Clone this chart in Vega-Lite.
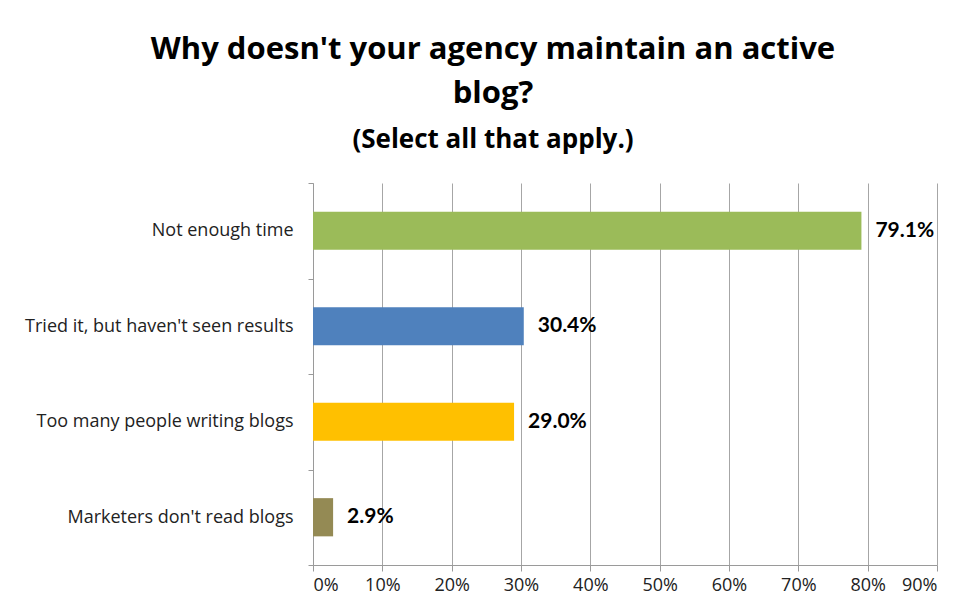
{
  "$schema": "https://vega.github.io/schema/vega-lite/v6.json",
  "width": 624,
  "height": 382,
  "autosize": "none",
  "padding": {"left": 313, "top": 183, "right": 32, "bottom": 49},
  "background": "white",
  "title": {
    "text": ["Why doesn't your agency maintain an active", "blog?"],
    "subtitle": "(Select all that apply.)",
    "anchor": "middle",
    "dx": -132,
    "offset": 20,
    "font": "Open Sans",
    "fontSize": 31,
    "fontWeight": "bold",
    "lineHeight": 44,
    "color": "#000000",
    "subtitleFont": "Open Sans",
    "subtitleFontSize": 26,
    "subtitleFontWeight": "bold",
    "subtitleColor": "#000000",
    "subtitlePadding": 17
  },
  "data": {
    "values": [
      {"reason": "Not enough time", "share": 0.791, "color": "#9BBB59"},
      {"reason": "Tried it, but haven't seen results", "share": 0.304, "color": "#4F81BD"},
      {"reason": "Too many people writing blogs", "share": 0.29, "color": "#FFC000"},
      {"reason": "Marketers don't read blogs", "share": 0.029, "color": "#948A54"}
    ]
  },
  "encoding": {
    "y": {
      "field": "reason",
      "type": "nominal",
      "sort": null,
      "scale": {"paddingInner": 0, "paddingOuter": 0},
      "axis": {
        "title": null,
        "tickBand": "extent",
        "domainColor": "#9a9a9a",
        "tickColor": "#9a9a9a",
        "tickSize": 5,
        "labelFont": "Open Sans",
        "labelFontSize": 18,
        "labelColor": "#222222",
        "labelPadding": 15,
        "labelLimit": 320,
        "grid": false
      }
    },
    "x": {
      "field": "share",
      "type": "quantitative",
      "scale": {"domain": [0, 0.9], "nice": false},
      "axis": {
        "title": null,
        "format": "%",
        "values": [0, 0.1, 0.2, 0.3, 0.4, 0.5, 0.6, 0.7, 0.8, 0.9],
        "grid": true,
        "gridColor": "#a6a6a6",
        "gridWidth": 1,
        "domainColor": "#9a9a9a",
        "tickColor": "#9a9a9a",
        "tickSize": 6,
        "labelFont": "Open Sans",
        "labelFontSize": 18,
        "labelColor": "#222222",
        "labelPadding": 5
      }
    }
  },
  "layer": [
    {
      "mark": {"type": "bar", "height": {"band": 0.4}},
      "encoding": {
        "color": {"field": "color", "type": "nominal", "scale": null, "legend": null}
      }
    },
    {
      "mark": {"type": "text", "align": "left", "dx": 14, "font": "Lato", "fontSize": 21, "fontWeight": "bold", "color": "#000000"},
      "encoding": {
        "text": {"field": "share", "type": "quantitative", "format": ".1%"}
      }
    }
  ],
  "config": {
    "view": {"stroke": null}
  }
}
